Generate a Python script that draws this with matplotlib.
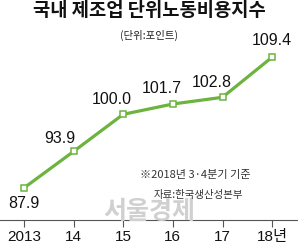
import matplotlib.pyplot as plt

plt.rcParams['font.family'] = ['Noto Sans CJK KR', 'DejaVu Sans']

years = ['2013', '14', '15', '16', '17', '18년']
values = [87.9, 93.9, 100.0, 101.7, 102.8, 109.4]
# label offsets in points (dx, dy)
label_offsets = [(0, -11), (-10, 9), (-8, 11), (-8, 11), (-8, 11), (0, 12)]

green = '#6cb33f'
num_font = ['Liberation Sans Narrow', 'Liberation Sans', 'Noto Sans CJK KR']

fig = plt.figure(figsize=(2.98, 2.43), dpi=100)
ax = fig.add_axes([0, 23 / 243, 1, 220 / 243])

x = list(range(len(values)))
ax.plot(x, values, color=green, lw=2.3, marker='s', ms=4,
        mfc='white', mec=green, mew=1.1, zorder=3)

for xi, v, (dx, dy) in zip(x, values, label_offsets):
    ax.annotate(f'{v:.1f}', (xi, v), xytext=(dx, dy), textcoords='offset points',
                ha='center', va='center', fontsize=11.5, color='#111111',
                family=num_font)

ax.set_xlim(-0.48, 5.52)
ax.set_ylim(82.65, 118.78)
ax.set_xticks(x)
ax.set_xticklabels(years, fontsize=11, color='#111111', family=num_font)
ax.set_yticks([])
for s in ['top', 'left', 'right']:
    ax.spines[s].set_visible(False)
ax.spines['bottom'].set_color('#555555')
ax.spines['bottom'].set_linewidth(0.8)
ax.tick_params(axis='x', direction='out', length=5, width=0.8, color='#555555', pad=2)
ax.patch.set_alpha(0)

fig.text(0.5, 1 - 11 / 243, '국내 제조업 단위노동비용지수', ha='center', va='center',
         fontsize=13.5, fontweight='bold', color='#111111')
fig.text(0.5, 1 - 35 / 243, '(단위:포인트)', ha='center', va='center',
         fontsize=7.5, color='#222222')
fig.text(0.47, 1 - 175 / 243, '※2018년 3·4분기 기준', ha='left', va='center',
         fontsize=8, color='#333333')
fig.text(0.515, 1 - 195 / 243, '자료:한국생산성본부', ha='left', va='center',
         fontsize=7.5, color='#333333')
fig.text(0.5, 1 - 212 / 243, '서울경제', ha='center', va='center',
         fontsize=18, fontweight='bold', color='#d0d0d0', zorder=0)

fig.savefig('out.png', dpi=100)
